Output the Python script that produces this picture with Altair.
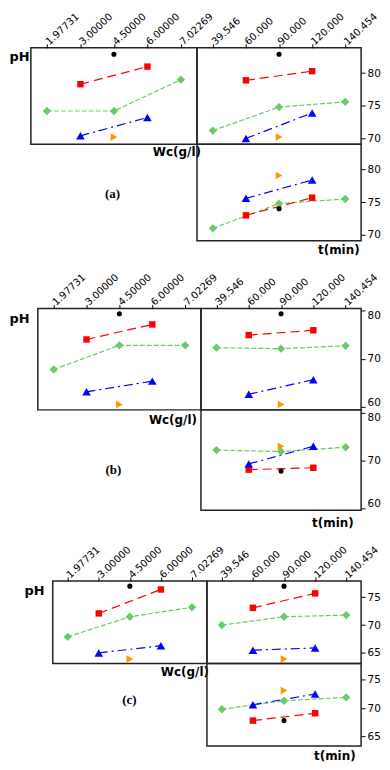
import altair as alt
import pandas as pd

WC_LABELS = ["1.97731", "3.00000", "4.50000", "6.00000", "7.02269"]
T_LABELS = ["39.546", "60.000", "90.000", "120.000", "140.454"]

# level index (position on the coded axis) of each series
RED_LEVELS = [1, 3]
GREEN_LEVELS = [0, 2, 4]
BLUE_LEVELS = [1, 3]
ORANGE_LEVELS = [2]
BLACK_LEVELS = [2]

# ---- panel (a) ----
A_WC_RED = [78.3, 81.0]
A_WC_GREEN = [74.2, 74.2, 79.0]
A_WC_BLUE = [70.4, 73.2]
A_WC_ORANGE = [70.2]
A_WC_BLACK = [82.9]
A_T_RED = [78.9, 80.3]
A_T_GREEN = [71.2, 74.8, 75.6]
A_T_BLUE = [70.0, 73.9]
A_T_ORANGE = [70.2]
A_T_BLACK = [82.9]
A_T2_RED = [73.0, 75.7]
A_T2_GREEN = [71.0, 74.8, 75.5]
A_T2_BLUE = [75.6, 78.4]
A_T2_ORANGE = [79.1]
A_T2_BLACK = [74.0]

# ---- panel (b) ----
B_WC_RED = [74.0, 77.1]
B_WC_GREEN = [67.8, 72.8, 72.8]
B_WC_BLUE = [63.2, 65.4]
B_WC_ORANGE = [60.6]
B_WC_BLACK = [79.3]
B_T_RED = [74.9, 75.9]
B_T_GREEN = [72.3, 72.1, 72.7]
B_T_BLUE = [62.7, 65.7]
B_T_ORANGE = [60.6]
B_T_BLACK = [79.3]
B_T2_RED = [68.1, 68.5]
B_T2_GREEN = [72.2, 71.9, 72.8]
B_T2_BLUE = [69.3, 73.0]
B_T2_ORANGE = [73.0]
B_T2_BLACK = [67.8]

# ---- panel (c) ----
C_WC_RED = [72.1, 76.4]
C_WC_GREEN = [67.9, 71.5, 73.2]
C_WC_BLUE = [65.0, 66.3]
C_WC_ORANGE = [63.9]
C_WC_BLACK = [77.0]
C_T_RED = [73.1, 75.7]
C_T_GREEN = [70.0, 71.5, 71.8]
C_T_BLUE = [65.5, 65.9]
C_T_ORANGE = [63.9]
C_T_BLACK = [77.0]
C_T2_RED = [67.8, 69.1]
C_T2_GREEN = [69.8, 71.3, 71.9]
C_T2_BLUE = [70.6, 72.5]
C_T2_ORANGE = [73.1]
C_T2_BLACK = [67.8]

A_TICKS = [70, 75, 80]
B_TICKS = [60, 70, 80]
C_TICKS = [65, 70, 75]

STYLE = {
    "green": ("#66cc66", "diamond", [5, 2], 70),
    "red": ("#ff0000", "square", [9, 5], 42),
    "blue": ("#0000ff", "triangle-up", [9, 4, 2, 4], 75),
    "orange": ("#ff9900", "triangle-right", None, 60),
    "black": ("#000000", "circle", None, 26),
}

NOSTROKE = alt.ViewBackground(strokeOpacity=0, strokeWidth=0)


def top_x_axis():
    return alt.Axis(orient="top", labelAngle=-43, labelAlign="left", labelBaseline="middle",
                    labelFont="DejaVu Sans", labelFontSize=10, labelPadding=1, tickSize=4,
                    domain=False, grid=False, title=None, labelOverlap=False,
                    minExtent=0)


def right_y_axis(ticks, flush):
    return alt.Axis(orient="right", values=ticks, format="d", labelFont="DejaVu Sans",
                    labelFontSize=10.5, labelPadding=2, tickSize=4, domain=False, grid=False,
                    title=None, minExtent=0, labelFlush=flush)


def subplot(kind, labels, red, green, blue, orange, black, ydom, ticks, w, h,
            title_x=0, title_y=0, flush=0):
    xscale = alt.Scale(type="point", domain=labels, padding=0.48)
    yscale = alt.Scale(domain=ydom, nice=False, zero=False)
    if kind == "wc":
        xaxis = top_x_axis()
        yaxis = alt.Axis(orient="left", labels=False, ticks=False, domain=False, grid=False,
                         title="pH", titleAngle=0, titleAlign="left", titleBaseline="middle",
                         titleX=title_x, titleY=title_y, titleFont="DejaVu Sans",
                         titleFontSize=13, titleFontWeight="bold", minExtent=0)
    elif kind == "t":
        xaxis = top_x_axis()
        yaxis = right_y_axis(ticks, flush)
    else:
        xaxis = alt.Axis(orient="bottom", labels=False, ticks=False, domain=False, grid=False,
                         title="t(min)", titleAlign="right", titleBaseline="middle",
                         titleX=title_x, titleY=title_y, titleFont="DejaVu Sans",
                         titleFontSize=12, titleFontWeight="bold", minExtent=0)
        yaxis = right_y_axis(ticks, flush)
    x_enc = alt.X("lvl:O", scale=xscale, axis=xaxis, sort=labels)
    y_enc = alt.Y("v:Q", scale=yscale, axis=yaxis)
    series = [("green", GREEN_LEVELS, green), ("red", RED_LEVELS, red),
              ("blue", BLUE_LEVELS, blue), ("orange", ORANGE_LEVELS, orange),
              ("black", BLACK_LEVELS, black)]
    lines, points = [], []
    for name, levels, vals in series:
        color, shape, dash, size = STYLE[name]
        df = pd.DataFrame({"lvl": [labels[i] for i in levels], "v": vals,
                           "o": list(range(len(vals)))})
        if dash is not None:
            lines.append(alt.Chart(df).mark_line(color=color, strokeDash=dash, strokeWidth=1.2)
                         .encode(x=x_enc, y=y_enc, order="o:Q"))
        points.append(alt.Chart(df).mark_point(shape=shape, filled=True, color=color,
                                               size=size, opacity=1)
                      .encode(x=x_enc, y=y_enc))
    return alt.layer(*lines, *points).properties(width=w, height=h)


def spacer(w, h):
    return alt.Chart(pd.DataFrame({"t": [0]})).mark_point(opacity=0).properties(
        width=w, height=h, view=NOSTROKE)


def label_cell(w, h, wc_x, wc_y, tag, tag_x, tag_y):
    df = pd.DataFrame({"t": [0]})
    wc = alt.Chart(df).mark_text(text="Wc(g/l)", align="right", baseline="middle",
                                 font="DejaVu Sans", fontSize=12, fontWeight="bold",
                                 color="black").encode(x=alt.value(wc_x), y=alt.value(wc_y))
    tg = alt.Chart(df).mark_text(text=tag, align="center", baseline="middle",
                                 font="Liberation Serif", fontSize=13, fontWeight="bold",
                                 color="black").encode(x=alt.value(tag_x), y=alt.value(tag_y))
    return alt.layer(wc, tg).properties(width=w, height=h, view=NOSTROKE)


def panel(cells):
    return alt.concat(*cells, columns=3, spacing=0, bounds="flush")


panel_a = panel([
    spacer(22, 97),
    subplot("wc", WC_LABELS, A_WC_RED, A_WC_GREEN, A_WC_BLUE, A_WC_ORANGE, A_WC_BLACK,
            [69.1, 83.88], A_TICKS, 167, 97, title_x=-22, title_y=9),
    subplot("t", T_LABELS, A_T_RED, A_T_GREEN, A_T_BLUE, A_T_ORANGE, A_T_BLACK,
            [69.1, 83.88], A_TICKS, 165, 97),
    spacer(22, 97),
    label_cell(167, 97, 171, 8, "(a)", 82, 50),
    subplot("t2", T_LABELS, A_T2_RED, A_T2_GREEN, A_T2_BLUE, A_T2_ORANGE, A_T2_BLACK,
            [69.1, 83.88], A_TICKS, 165, 97, title_x=163, title_y=9),
])

panel_b = panel([
    spacer(29, 102),
    subplot("wc", WC_LABELS, B_WC_RED, B_WC_GREEN, B_WC_BLUE, B_WC_ORANGE, B_WC_BLACK,
            [59.47, 80.41], B_TICKS, 164, 102, title_x=-29, title_y=10),
    subplot("t", T_LABELS, B_T_RED, B_T_GREEN, B_T_BLUE, B_T_ORANGE, B_T_BLACK,
            [59.47, 80.41], B_TICKS, 161, 102, flush=5),
    spacer(29, 101),
    label_cell(164, 101, 160, 10, "(b)", 76, 60),
    subplot("t2", T_LABELS, B_T2_RED, B_T2_GREEN, B_T2_BLUE, B_T2_ORANGE, B_T2_BLACK,
            [59.58, 80.63], B_TICKS, 161, 101, title_x=153, title_y=12, flush=5),
])

panel_c = panel([
    spacer(44, 83),
    subplot("wc", WC_LABELS, C_WC_RED, C_WC_GREEN, C_WC_BLUE, C_WC_ORANGE, C_WC_BLACK,
            [63.10, 77.93], C_TICKS, 155, 83, title_x=-29, title_y=10),
    subplot("t", T_LABELS, C_T_RED, C_T_GREEN, C_T_BLUE, C_T_ORANGE, C_T_BLACK,
            [63.10, 77.93], C_TICKS, 155, 83),
    spacer(44, 83),
    label_cell(155, 83, 157, 9, "(c)", 77, 37),
    subplot("t2", T_LABELS, C_T2_RED, C_T2_GREEN, C_T2_BLUE, C_T2_ORANGE, C_T2_BLACK,
            [63.3, 77.88], C_TICKS, 155, 83, title_x=149, title_y=9),
])

chart = alt.vconcat(panel_a, panel_b, panel_c, spacing=14).properties(
    padding=0, background="white"
).configure_view(stroke="#222222", strokeWidth=1.5).configure_axis(
    labelColor="black", tickColor="black", titleColor="black"
)

chart.save("out.html", embed_options={"renderer": "svg", "actions": False})
